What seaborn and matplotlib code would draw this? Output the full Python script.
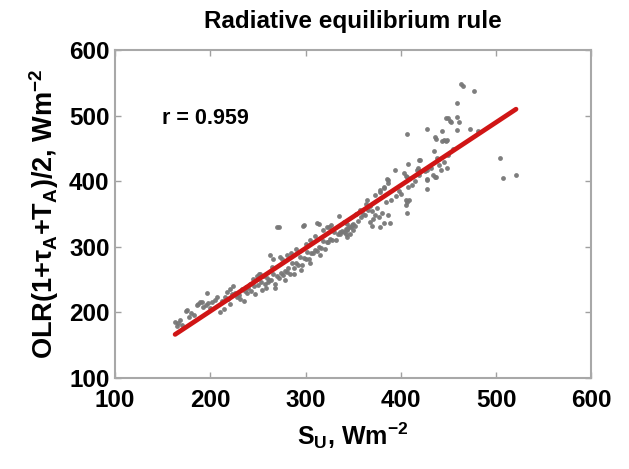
import numpy as np
import pandas as pd
import matplotlib
matplotlib.use("Agg")
import matplotlib.pyplot as plt
import seaborn as sns

# ---- data ----
su = [163,166,165,168,170,174,175,178,180,183,186,187,189,191,192,195,196,198,200,202,
      205,207,210,212,214,215,217,219,221,221,223,224,226,228,230,231,233,235,236,237,
      239,240,242,243,245,246,247,249,250,251,252,253,254,256,257,258,260,261,
      263,266,273,270,272,297,298,312,314,322,327,335,340,343,347,343,
      262,264,266,268,270,272,274,276,278,280,282,284,286,288,290,292,294,296,298,300,
      302,304,306,308,310,312,314,316,318,320,322,324,326,328,330,332,334,336,338,340,
      342,344,346,348,350,
      265,275,285,290,305,310,318,325,300,280,268,278,288,295,305,315,
      349,352,343,350,342,336,370,364,363,373,378,382,387,394,405,408,405,409,405,406,
      387,370,373,377,371,368,380,382,389,378,406,355,358,360,362,366,368,375,384,390,
      395,398,400,412,415,353,357,378,382,387,385,403,408,406,
      418,420,419,420,428,428,434,437,427,436,435,437,443,447,428,443,459,473,481,447,
      453,459,459,463,465,477,425,432,440,445,450,455,438,442,448,406,427,445,448,436,
      450,452,461,417,419,
      504,507,521]
olr = [186,184,179,189,181,202,204,193,199,196,211,213,216,216,208,211,230,214,207,216,
       219,224,201,217,206,224,231,220,236,213,228,241,230,224,226,221,236,218,232,239,
       230,238,244,232,251,240,228,256,242,259,259,247,234,256,244,238,252,247,
       287,282,285,331,330,332,333,336,335,330,333,347,338,335,320,315,
       250,249,258,244,256,252,260,257,263,261,268,259,276,268,275,273,284,272,283,281,
       292,281,291,290,295,294,300,299,309,297,308,308,312,311,322,310,319,319,324,322,
       327,326,331,330,335,
       270,281,290,297,310,316,325,330,305,287,238,250,258,265,275,288,
       333,332,328,326,320,323,332,372,366,379,384,392,402,418,408,392,372,372,364,351,
       349,354,349,346,343,338,351,336,336,331,369,340,345,350,348,357,362,360,368,372,
       378,385,380,395,400,350,356,387,390,397,404,412,427,407,
       420,416,432,432,402,389,409,407,404,407,446,465,461,462,480,476,478,480,477,497,
       491,498,520,549,545,538,415,420,425,430,440,450,435,418,420,472,417,463,463,468,
       496,492,491,417,409,
       435,405,409]

df = pd.DataFrame({"su": su, "olr": olr})

x_ticks = [100, 200, 300, 400, 500, 600]
y_ticks = [100, 200, 300, 400, 500, 600]

sns.set_theme(style="white")
plt.rcParams["font.family"] = ["Liberation Sans", "DejaVu Sans"]
plt.rcParams["font.weight"] = "bold"
plt.rcParams["text.color"] = "black"
plt.rcParams["axes.labelcolor"] = "black"
plt.rcParams["xtick.color"] = "black"
plt.rcParams["ytick.color"] = "black"
plt.rcParams["mathtext.fontset"] = "custom"
plt.rcParams["mathtext.rm"] = "Liberation Sans:bold"
plt.rcParams["mathtext.it"] = "Liberation Sans:bold"
plt.rcParams["mathtext.bf"] = "Liberation Sans:bold"
plt.rcParams["mathtext.default"] = "rm"

fig = plt.figure(figsize=(6.29, 4.69), dpi=100)
ax = fig.add_axes([0.183, 0.194, 0.757, 0.699])

sns.regplot(data=df, x="su", y="olr", ax=ax, ci=None,
            scatter_kws=dict(s=12, color="#777777", linewidths=0, alpha=0.95),
            line_kws=dict(color="#d01515", linewidth=3.4))

ax.set_xlim(100, 600)
ax.set_ylim(100, 600)
ax.set_xticks(x_ticks)
ax.set_yticks(y_ticks)
ax.set_xticklabels([str(v) for v in x_ticks], fontsize=17.5, fontweight="bold")
ax.set_yticklabels([str(v) for v in y_ticks], fontsize=17.5, fontweight="bold")
ax.tick_params(direction="in", length=4, width=1,
               top=True, right=True, bottom=True, left=True)
ax.tick_params(axis="x", pad=8, color="#a0a0a0", labelcolor="black")
ax.tick_params(axis="y", pad=4, color="#a0a0a0", labelcolor="black")
for s in ax.spines.values():
    s.set_color("#a8a8a8")
    s.set_linewidth(1.5)

ax.set_xlabel(r"S$_U$, Wm$^{-2}$", fontsize=18, fontweight="bold", labelpad=6, color="black")
ax.set_ylabel(r"OLR(1+$\tau_A$+T$_A$)/2, Wm$^{-2}$", fontsize=19.5, fontweight="bold",
              labelpad=6, color="black")
ax.set_title("Radiative equilibrium rule", fontsize=17.5, fontweight="bold", pad=16, color="black")
ax.text(149, 496, "r = 0.959", fontsize=15.5, fontweight="bold", va="center", ha="left", color="black")

fig.savefig("out.png", dpi=100, facecolor="white")
